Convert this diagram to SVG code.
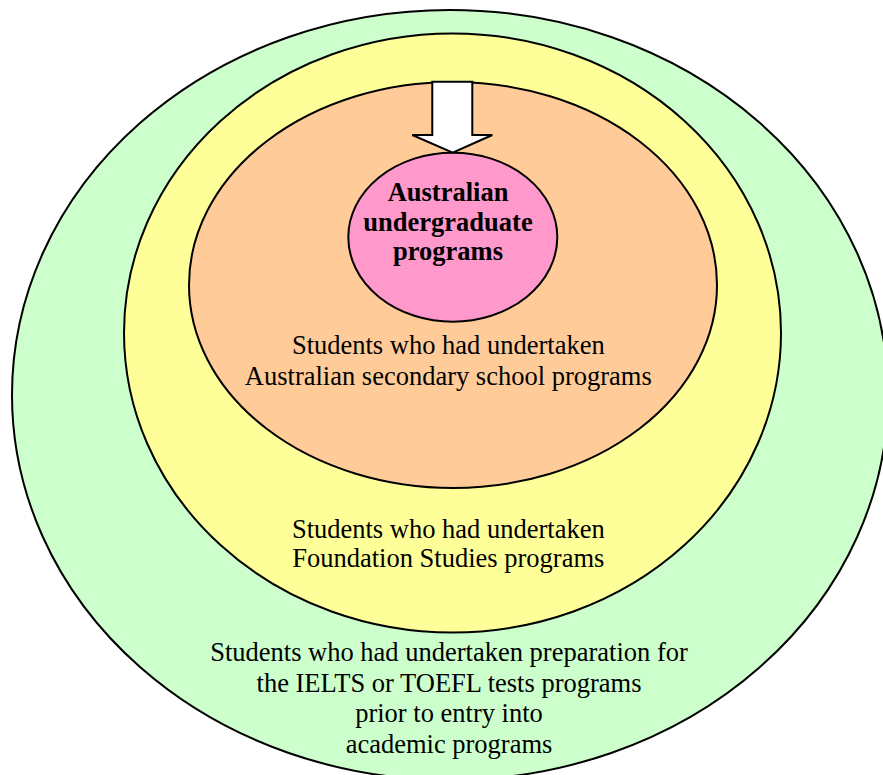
<svg xmlns="http://www.w3.org/2000/svg" width="883" height="775" viewBox="0 0 883 775">
<style>
.ring{stroke:#000;stroke-width:2}
.t{font-family:"Liberation Serif","Times New Roman",serif;font-size:26.5px;fill:#000;text-anchor:middle}
.b{font-weight:bold}
</style>
<rect width="883" height="775" fill="#fff"/>
<g id="green">
<ellipse class="ring" cx="450" cy="395" rx="438" ry="385" fill="#CCFFCC"/>
<text class="t"><tspan x="449" y="661">Students who had undertaken preparation for</tspan><tspan x="449" y="691.5">the IELTS or TOEFL tests programs</tspan><tspan x="449" y="722">prior to entry into</tspan><tspan x="449" y="752.5">academic programs</tspan></text>
</g>
<g id="yellow">
<ellipse class="ring" cx="452.5" cy="333" rx="328.5" ry="299.5" fill="#FFFF99"/>
<text class="t"><tspan x="448.3" y="537.5">Students who had undertaken</tspan><tspan x="448.3" y="567">Foundation Studies programs</tspan></text>
</g>
<g id="orange">
<ellipse class="ring" cx="453" cy="285" rx="264" ry="203" fill="#FFCC99"/>
<text class="t"><tspan x="448.3" y="354">Students who had undertaken</tspan><tspan x="448.3" y="384.5">Australian secondary school programs</tspan></text>
</g>
<g id="pink">
<ellipse class="ring" cx="452.8" cy="237.2" rx="104.5" ry="84.5" fill="#FF99CC"/>
<text class="t b"><tspan x="448" y="201">Australian</tspan><tspan x="448" y="230.5">undergraduate</tspan><tspan x="448" y="260">programs</tspan></text>
</g>
<g id="connectors">
<polygon points="432.3,81.7 472.3,81.7 472.3,135 492.3,135 452.7,152.7 412.3,135 432.3,135" fill="#fff" stroke="#000" stroke-width="2" stroke-linejoin="miter"/>
</g>
</svg>
